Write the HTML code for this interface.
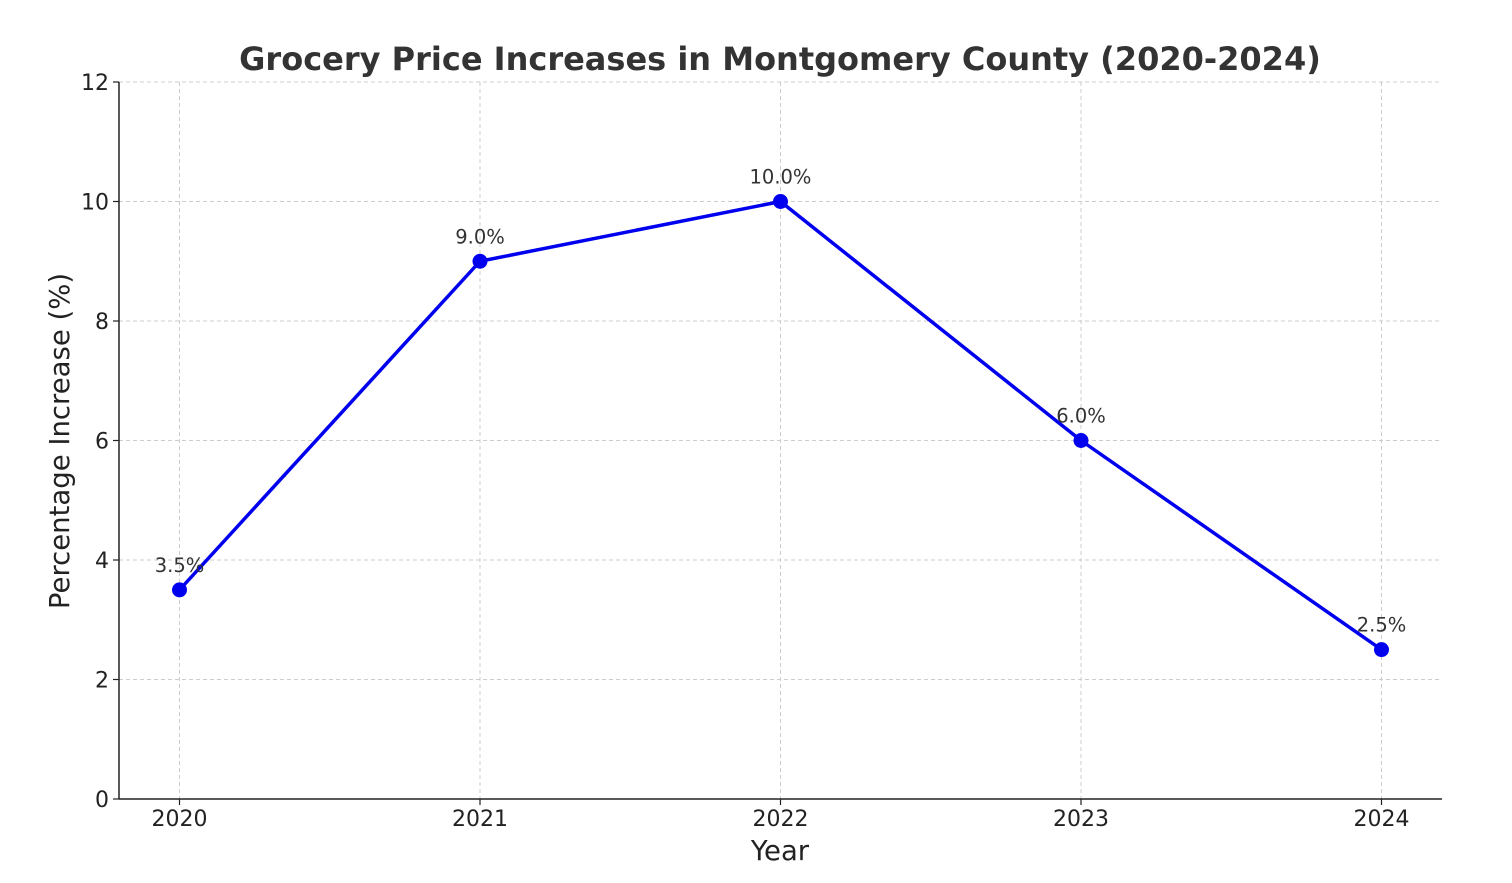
<!DOCTYPE html>
<html><head><meta charset="utf-8"><style>
body{margin:0;background:#fff;}
svg text{font-family:"DejaVu Sans","Liberation Sans",sans-serif;}
</style></head><body>
<svg width="1512" height="878" xmlns="http://www.w3.org/2000/svg">
<g id="grid"></g>
<g id="axes"></g>
<g id="series"></g>
<text x="780" y="70" text-anchor="middle" font-size="32" font-weight="bold" fill="#333">Grocery Price Increases in Montgomery County (2020-2024)</text>
<text x="780" y="860" text-anchor="middle" font-size="27.5" fill="#222">Year</text>
<text transform="translate(69,441) rotate(-90)" text-anchor="middle" font-size="27.5" fill="#222">Percentage Increase (%)</text>
</svg>
<script>
const years=["2020","2021","2022","2023","2024"];
const values=[3.5,9.0,10.0,6.0,2.5];
const yTicks=[0,2,4,6,8,10,12];
const NS="http://www.w3.org/2000/svg";
const L=119,R=1442,T=82,B=799;
const xs=i=>179.5+i*(1381.5-179.5)/(years.length-1);
const ys=v=>B-(v/12)*(B-T);
function mk(tag,attrs,parent,txt){const e=document.createElementNS(NS,tag);for(const k in attrs)e.setAttribute(k,attrs[k]);if(txt!==undefined)e.textContent=txt;parent.appendChild(e);return e;}
const grid=document.getElementById('grid'),axes=document.getElementById('axes'),series=document.getElementById('series');
yTicks.forEach(t=>{
 const y=ys(t);
 const g=mk('line',{x1:L,x2:R,y1:y,y2:y,stroke:'#ccc','stroke-dasharray':'4,3','stroke-width':1},grid);
 
 
 const tk=mk('line',{x1:L-6,x2:L,y1:y,y2:y,stroke:'#222','stroke-width':1.2},axes);
 
 
 const tl=mk('text',{x:L-10,y:y+8,'text-anchor':'end','font-size':22,fill:'#222'},axes,String(t));
 
 
});
years.forEach((yr,i)=>{
 const x=xs(i);
 const g=mk('line',{x1:x,x2:x,y1:T,y2:B,stroke:'#ccc','stroke-dasharray':'4,3','stroke-width':1},grid);
 
 
 const tk=mk('line',{x1:x,x2:x,y1:B,y2:B+6,stroke:'#222','stroke-width':1.2},axes);
 
 
 const tl=mk('text',{x:x,y:B+27,'text-anchor':'middle','font-size':22,fill:'#222'},axes,yr);
 
 
});
const la=mk('line',{x1:L,x2:L,y1:T,y2:B,stroke:'#222','stroke-width':1.5},axes);


const ba=mk('line',{x1:L,x2:R,y1:B,y2:B,stroke:'#222','stroke-width':1.5},axes);


const pts=values.map((v,i)=>xs(i)+','+ys(v)).join(' ');
const pl=mk('polyline',{points:pts,fill:'none',stroke:'#0000ee','stroke-width':3.5,'stroke-linejoin':'round'},series);


values.forEach((v,i)=>{
 const c=mk('circle',{cx:xs(i),cy:ys(v),r:7.5,fill:'#0000ee'},series);
 
 
 const t=mk('text',{x:xs(i),y:ys(v)-18,'text-anchor':'middle','font-size':19.5,fill:'#333'},series,v.toFixed(1)+'%');
 
 
});
</script>
</body></html>
